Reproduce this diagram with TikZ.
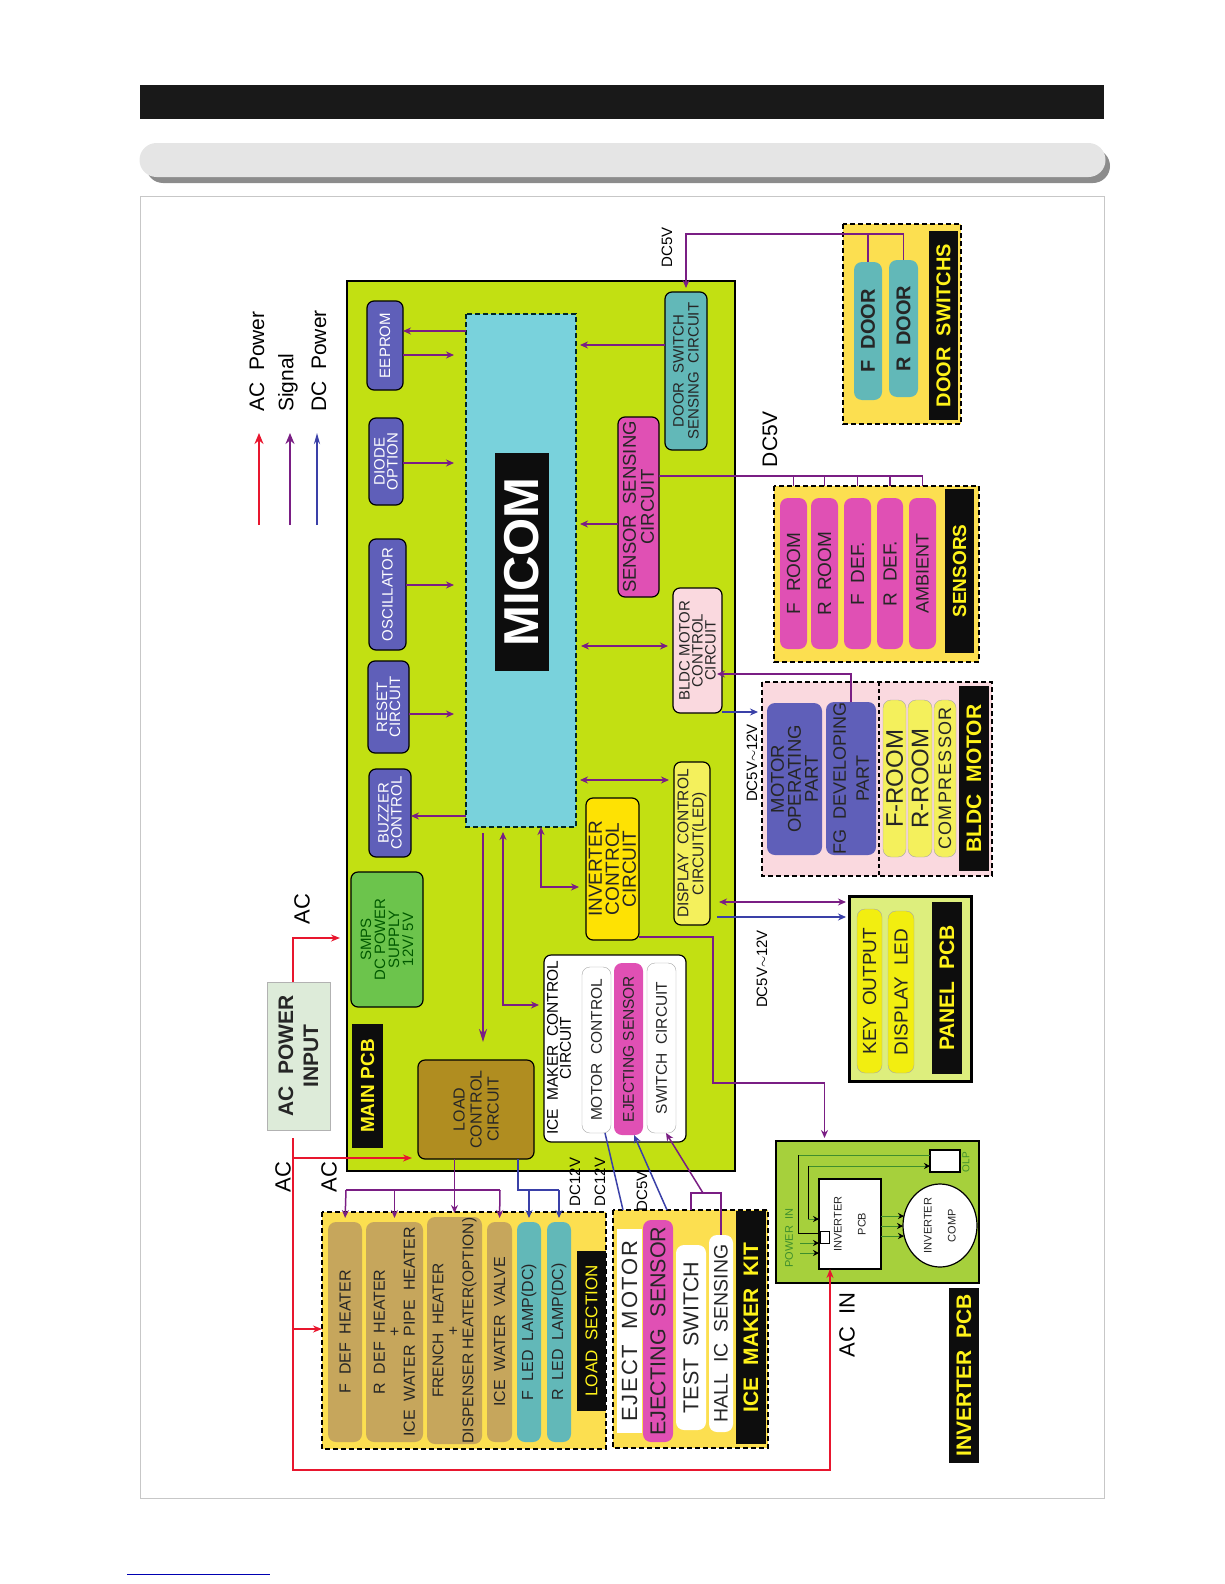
\documentclass[tikz,border=0pt]{standalone}
\usepackage{fontspec}
\setmainfont{Liberation Sans}
\usetikzlibrary{shapes.geometric, arrows.meta}
\newcommand{\fsz}[2]{\fontsize{#1}{#2}\selectfont}
\definecolor{pcbgreen}{HTML}{C2E012}
\definecolor{micomblue}{HTML}{79D2DC}
\definecolor{chipblue}{HTML}{5F5FB9}
\definecolor{panelyellow}{HTML}{FCDF50}
\definecolor{rowpink}{HTML}{E050B4}
\definecolor{rowteal}{HTML}{62B8B8}
\definecolor{rowtan}{HTML}{C6A65C}
\definecolor{rowyellow}{HTML}{F4F05C}
\definecolor{keyyellow}{HTML}{F2EE10}
\definecolor{loadbrown}{HTML}{B08D20}
\definecolor{smpsgreen}{HTML}{6CC44C}
\definecolor{invgreen}{HTML}{A6D03C}
\definecolor{acpale}{HTML}{DDEBD9}
\definecolor{blush}{HTML}{FAD9DF}
\definecolor{acred}{HTML}{E8162E}
\definecolor{sigpurple}{HTML}{7A1E84}
\definecolor{dcblue}{HTML}{3A40A8}
\definecolor{wiregreen}{HTML}{3F8F2C}
\tikzstyle{vbox} = [
    rectangle,
    rotate=90,
    inner sep=0pt,
    outer sep=0pt,
    align=center,
    text=black!85
]
\tikzstyle{chip} = [
    vbox,
    rounded corners=7pt,
    draw=black,
    line width=1.2pt,
    fill=chipblue,
    text=white,
    font=\fsz{15}{13}
]
\tikzstyle{circuit} = [
    vbox,
    rounded corners=7pt,
    draw=black,
    line width=1.2pt,
    font=\fsz{15}{13}
]
\tikzstyle{panel} = [
    vbox,
    draw=black,
    line width=1.6pt,
    dash pattern=on 5pt off 3pt,
    fill=panelyellow
]
\tikzstyle{tag} = [
    vbox,
    fill=black!95,
    text=yellow!90!white,
    font=\bfseries\fsz{21}{21}
]
\tikzstyle{row} = [
    vbox,
    rounded corners=8pt,
    font=\fsz{16}{15}
]
\tikzstyle{vlabel} = [
    rotate=90,
    inner sep=0pt,
    text=black,
    align=center
]
\tikzstyle{acline} = [line width=1.5pt,color=acred]
\tikzstyle{acarrow} = [acline,-{Stealth[length=9pt,width=7pt]}]
\tikzstyle{sigline} = [line width=1.5pt,color=sigpurple]
\tikzstyle{sigarrow} = [sigline,-{Stealth[length=8pt,width=7pt]}]
\tikzstyle{sigboth} = [sigline,{Stealth[length=8pt,width=7pt]}-{Stealth[length=8pt,width=7pt]}]
\tikzstyle{dcline} = [line width=1.5pt,color=dcblue]
\tikzstyle{dcarrow} = [dcline,-{Stealth[length=8pt,width=7pt]}]
\tikzstyle{wire} = [line width=0.7pt,color=wiregreen]
\tikzstyle{wirearrow} = [wire,-{Stealth[length=6pt,width=6pt,black]}]
\begin{document}
\begin{tikzpicture}[x=1pt, y=-1pt]
\useasboundingbox (0,0) rectangle (1224,1584);

% page furniture
\node (titlebar) at (622,102) [rectangle, fill=black!90, minimum width=964pt, minimum height=34pt, inner sep=0pt] {};
\node (subshadow) at (628,166) [rectangle, rounded corners=17pt, fill=black!45, minimum width=964pt, minimum height=34pt, inner sep=0pt] {};
\node (subbar) at (622.5,160) [rectangle, rounded corners=17pt, fill=black!10, minimum width=966pt, minimum height=34pt, inner sep=0pt] {};
\node (frame) at (622,847) [rectangle, draw=black!22, line width=0.8pt, minimum width=964pt, minimum height=1302pt, inner sep=0pt] {};
\coordinate (linka) at (127,1574);
\coordinate (linkb) at (270,1574);
\draw [line width=0.7pt, color=blue!70!black] (linka) -- (linkb);

% legend
\coordinate (legacs) at (259,525);
\coordinate (legace) at (259,433);
\coordinate (legsigs) at (290,525);
\coordinate (legsige) at (290,433);
\coordinate (legdcs) at (317,525);
\coordinate (legdce) at (317,433);
\draw [acline, line width=2pt, -{Stealth[length=11pt,width=9pt]}] (legacs) -- (legace);
\draw [sigline, line width=2pt, -{Stealth[length=11pt,width=9pt]}] (legsigs) -- (legsige);
\draw [dcline, line width=2pt, -{Stealth[length=11pt,width=6pt]}] (legdcs) -- (legdce);
\node (legac) at (257,412) [vlabel, anchor=west, font=\fsz{21}{21}] {AC\ \ Power};
\node (legsig) at (288,412) [vlabel, anchor=west, font=\fsz{21}{21}] {Signal};
\node (legdc) at (319,412) [vlabel, anchor=west, font=\fsz{21}{21}] {DC\ \ Power};

% main pcb
\node (mainpcb) at (541,726) [vbox, draw=black, line width=1.4pt, fill=pcbgreen, minimum width=890pt, minimum height=388pt] {};
\node (micom) at (521,570.5) [vbox, draw=black!70!teal, line width=1.3pt, dash pattern=on 5pt off 3pt, fill=micomblue, minimum width=513pt, minimum height=110pt] {};
\node (micomtag) at (522,562) [vbox, fill=black!95, text=white, font=\bfseries\fsz{49}{49}, minimum width=218pt, minimum height=54pt] {MICOM};
\node (eeprom) at (385,345.5) [chip, minimum width=89pt, minimum height=36pt] {EEPROM};
\node (diode) at (386,461.5) [chip, minimum width=87pt, minimum height=34pt] {DIODE\\OPTION};
\node (oscillator) at (387.5,594.5) [chip, minimum width=111pt, minimum height=37pt] {OSCILLATOR};
\node (reset) at (388.5,707) [chip, minimum width=92pt, minimum height=41pt] {RESET\\CIRCUIT};
\node (buzzer) at (390,813) [chip, minimum width=88pt, minimum height=42pt] {BUZZER\\CONTROL};
\node (smps) at (387,939.5) [circuit, fill=smpsgreen, text=green!35!black, font=\fsz{15}{14}, minimum width=135pt, minimum height=72pt] {SMPS\\DC POWER\\SUPPLY\\12V/ 5V};
\node (maintag) at (367.5,1086) [tag, font=\bfseries\fsz{19}{19}, minimum width=124pt, minimum height=31pt] {MAIN PCB};
\node (loadctl) at (476,1109.5) [circuit, fill=loadbrown, font=\fsz{16}{17}, minimum width=99pt, minimum height=116pt] {LOAD\\CONTROL\\CIRCUIT};
\node (icectl) at (615,1048.5) [circuit, fill=white, minimum width=187pt, minimum height=142pt] {};
\node (icetitle) at (559,1048) [vlabel, font=\fsz{15.5}{13}] {ICE\ \ MAKER\ \ CONTROL\\CIRCUIT};
\node (motorctl) at (596.5,1050) [row, fill=white, draw=black!35, font=\fsz{15.5}{15}, minimum width=166pt, minimum height=29pt] {MOTOR\ \ CONTROL};
\node (ejctl) at (628.5,1049) [row, fill=rowpink, font=\fsz{15.5}{15}, minimum width=172pt, minimum height=29pt] {EJECTING SENSOR};
\node (switchctl) at (661.5,1048) [row, fill=white, draw=black!35, font=\fsz{15.5}{15}, minimum width=170pt, minimum height=29pt] {SWITCH\ \ CIRCUIT};
\node (invctl) at (612.5,869) [circuit, fill=yellow!85!orange, font=\fsz{19}{17}, minimum width=142pt, minimum height=53pt] {INVERTER\\CONTROL\\CIRCUIT};
\node (display) at (692,843.5) [circuit, fill=rowyellow, font=\fsz{15.5}{15}, minimum width=163pt, minimum height=36pt] {DISPLAY\ \ CONTROL\\CIRCUIT(LED)};
\node (bldcctl) at (697.5,650.5) [circuit, fill=blush, minimum width=125pt, minimum height=49pt] {BLDC MOTOR\\CONTROL\\CIRCUIT};
\node (sensing) at (638.5,507) [circuit, fill=rowpink, font=\fsz{18.5}{18}, minimum width=180pt, minimum height=41pt] {SENSOR\ \ SENSING\\CIRCUIT};
\node (doorctl) at (686,371) [circuit, fill=rowteal, font=\fsz{15}{15}, minimum width=158pt, minimum height=42pt] {DOOR\ \ SWITCH\\SENSING\ \ CIRCUIT};

% door switchs
\node (doorpanel) at (902,324) [panel, minimum width=200pt, minimum height=118pt] {};
\node (doortag) at (943.5,325.5) [tag, font=\bfseries\fsz{20}{20}, minimum width=189pt, minimum height=29pt] {DOOR\ \ SWITCHS};
\node (fdoor) at (868,331) [row, fill=rowteal, font=\bfseries\fsz{20}{20}, minimum width=138pt, minimum height=28pt] {F\ \ DOOR};
\node (rdoor) at (903.5,328.5) [row, fill=rowteal, font=\bfseries\fsz{20}{20}, minimum width=137pt, minimum height=29pt] {R\ \ DOOR};

% sensors
\node (senspanel) at (876.5,574) [panel, minimum width=176pt, minimum height=205pt] {};
\node (senstag) at (959.5,571) [tag, font=\bfseries\fsz{19}{19}, minimum width=164pt, minimum height=29pt] {SENSORS};
\node (froomsens) at (793.5,573.5) [row, fill=rowpink, font=\fsz{19}{19}, minimum width=151pt, minimum height=27pt] {F\ \ ROOM};
\node (rroomsens) at (824.5,573.5) [row, fill=rowpink, font=\fsz{19}{19}, minimum width=151pt, minimum height=27pt] {R\ \ ROOM};
\node (fdefsens) at (857.5,573.5) [row, fill=rowpink, font=\fsz{19}{19}, minimum width=151pt, minimum height=27pt] {F\ \ DEF.};
\node (rdefsens) at (890,573.5) [row, fill=rowpink, font=\fsz{19}{19}, minimum width=151pt, minimum height=26pt] {R\ \ DEF.};
\node (ambient) at (922.5,573.5) [row, fill=rowpink, font=\fsz{18}{18}, minimum width=151pt, minimum height=27pt] {AMBIENT};

% bldc motor
\node (bldcpanel) at (877,779) [panel, fill=blush, line width=2.2pt, minimum width=194pt, minimum height=230pt] {};
\node (motorpart) at (794.5,779) [row, fill=chipblue, font=\fsz{18.5}{17}, minimum width=152pt, minimum height=55pt] {MOTOR\\OPERATING\\PART};
\node (fgpart) at (851,778.5) [row, fill=chipblue, font=\fsz{18}{23}, minimum width=153pt, minimum height=50pt] {FG\ \ DEVELOPING\\PART};
\node (froommotor) at (894.5,778.5) [row, fill=rowyellow, draw=black!35, font=\fsz{24}{24}, minimum width=157pt, minimum height=23pt] {F-ROOM};
\node (rroommotor) at (920,778.5) [row, fill=rowyellow, draw=black!35, font=\fsz{24}{24}, minimum width=157pt, minimum height=24pt] {R-ROOM};
\node (compressor) at (945,778.5) [row, fill=rowyellow, draw=black!35, font=\fsz{18}{18}\addfontfeature{LetterSpace=8}, minimum width=157pt, minimum height=22pt] {COMPRESSOR};
\node (bldctag) at (974,778.5) [tag, minimum width=185pt, minimum height=30pt] {BLDC\ \ MOTOR};
\coordinate (divtop) at (879,682);
\coordinate (divbot) at (879,876);
\draw [black, line width=1.6pt, dash pattern=on 4pt off 3pt] (divtop) -- (divbot);

% panel pcb
\node (panelpcb) at (910,988.5) [vbox, draw=black, line width=3pt, fill=pcbgreen!55!white, minimum width=185pt, minimum height=122pt] {};
\node (keyout) at (869.5,991) [row, fill=keyyellow, draw=black!35, font=\fsz{19}{19}, minimum width=164pt, minimum height=25pt] {KEY\ \ OUTPUT};
\node (displed) at (901,992) [row, fill=keyyellow, draw=black!35, font=\fsz{19}{19}, minimum width=162pt, minimum height=26pt] {DISPLAY\ \ LED};
\node (paneltag) at (947,988) [tag, minimum width=172pt, minimum height=30pt] {PANEL\ \ PCB};

% inverter pcb
\node (invbox) at (877.5,1212) [vbox, draw=black, line width=1.2pt, fill=invgreen, minimum width=142pt, minimum height=203pt] {};
\node (invpcb) at (850,1224) [vbox, draw=black, line width=2.4pt, fill=white, font=\fsz{11}{24}, minimum width=90pt, minimum height=62pt] {INVERTER\\PCB};
\node (invplug) at (824.5,1237) [vbox, draw=black, line width=1pt, fill=white, minimum width=12pt, minimum height=9pt] {};
\node (invcomp) at (940,1225.5) [ellipse, rotate=90, inner sep=0pt, outer sep=0pt, draw=black, line width=1.2pt, fill=white, text=black!85, align=center, font=\fsz{11}{24}, minimum width=83pt, minimum height=74pt] {INVERTER\\COMP};
\node (olp) at (945,1161) [vbox, draw=black, line width=1.6pt, fill=white, minimum width=22pt, minimum height=30pt] {};
\node (olplabel) at (966,1162) [vlabel, text=wiregreen, font=\fsz{10}{10}] {OLP};
\node (powerin) at (789,1238) [vlabel, text=wiregreen, font=\fsz{11}{11}] {POWER\ \ IN};
\node (invtag) at (964,1375.5) [tag, minimum width=175pt, minimum height=30pt] {INVERTER\ \ PCB};
\node (acin) at (847,1325) [vlabel, font=\fsz{22}{22}] {AC\ \ IN};

% load section
\node (loadpanel) at (464,1330.5) [panel, minimum width=237pt, minimum height=284pt] {};
\node (loadtag) at (591.5,1331) [tag, font=\fsz{17}{17}, minimum width=160pt, minimum height=29pt] {LOAD\ \ SECTION};
\node (fheater) at (345,1332) [row, fill=rowtan, minimum width=220pt, minimum height=34pt] {F\ \ DEF\ \ HEATER};
\node (rheater) at (394.5,1332) [row, fill=rowtan, minimum width=220pt, minimum height=57pt] {R\ \ DEF\ \ HEATER\\+\\ICE\ \ WATER\ \ PIPE\ \ HEATER};
\node (french) at (454.5,1330.5) [row, fill=rowtan, font=\fsz{15.5}{15}, minimum width=227pt, minimum height=55pt] {FRENCH\ \ HEATER\\+\\DISPENSER HEATER(OPTION)};
\node (valve) at (499.5,1332) [row, fill=rowtan, minimum width=220pt, minimum height=25pt] {ICE\ \ WATER\ \ VALVE};
\node (fled) at (529,1332) [row, fill=rowteal, minimum width=220pt, minimum height=24pt] {F\ \ LED\ \ LAMP(DC)};
\node (rled) at (559,1332) [row, fill=rowteal, minimum width=220pt, minimum height=24pt] {R\ \ LED\ \ LAMP(DC)};

% ice maker kit
\node (icepanel) at (690.5,1329) [panel, minimum width=238pt, minimum height=155pt] {};
\node (icetag) at (751,1327.5) [tag, minimum width=233pt, minimum height=30pt] {ICE\ \ MAKER\ \ KIT};
\node (ejectm) at (629.5,1331) [vbox, fill=white, font=\fsz{22}{22}\addfontfeature{LetterSpace=8}, minimum width=204pt, minimum height=25pt] {EJECT\ \ MOTOR};
\node (ejects) at (658,1331) [row, fill=rowpink, font=\fsz{21.5}{21}, minimum width=222pt, minimum height=30pt] {EJECTING\ \ SENSOR};
\node (testsw) at (691,1337.5) [row, fill=white, font=\fsz{21.5}{21}, minimum width=185pt, minimum height=30pt] {TEST\ \ SWITCH};
\node (hallic) at (721,1333.5) [row, fill=white, font=\fsz{19.5}{19}, minimum width=197pt, minimum height=24pt] {HALL\ \ IC\ \ SENSING};

% ac power input
\node (acinput) at (298.5,1056) [vbox, draw=black!30, line width=0.8pt, fill=acpale, font=\bfseries\fsz{21}{25}, minimum width=148pt, minimum height=63pt] {AC\ \ POWER\\INPUT};

% small labels
\node (actop) at (302,909) [vlabel, font=\fsz{22}{22}] {AC};
\node (acleft) at (283,1177) [vlabel, font=\fsz{22}{22}] {AC};
\node (acload) at (329,1177) [vlabel, font=\fsz{22}{22}] {AC};
\node (dcdoor) at (667,247) [vlabel, font=\fsz{15}{15}] {DC5V};
\node (dcsens) at (770,439) [vlabel, font=\fsz{21}{21}] {DC5V};
\node (dcbldc) at (752,763) [vlabel, font=\fsz{15}{15}] {DC5V$\sim$12V};
\node (dcpanel) at (762,969) [vlabel, font=\fsz{15}{15}] {DC5V$\sim$12V};
\node (dcfirst) at (575,1182) [vlabel, font=\fsz{15}{15}] {DC12V};
\node (dcsecond) at (600,1182) [vlabel, font=\fsz{15}{15}] {DC12V};
\node (dcice) at (642,1191) [vlabel, font=\fsz{15}{15}] {DC5V};

% around the micom
\coordinate (invdrop) at (541,887);
\coordinate (loaddrop) at (483,1042);
\coordinate (icedrop) at (503,1005);
\draw [sigarrow] (micom.north |- 0,331) -- (eeprom.south |- 0,331);
\draw [sigarrow, shorten >=12pt] (eeprom.south |- 0,355) -- (micom.north |- 0,355);
\draw [sigarrow, shorten >=12pt] (diode.south |- 0,463) -- (micom.north |- 0,463);
\draw [sigarrow, shorten >=12pt] (oscillator.south |- 0,585) -- (micom.north |- 0,585);
\draw [sigarrow, shorten >=12pt] (reset.south |- 0,714) -- (micom.north |- 0,714);
\draw [sigarrow] (micom.north |- 0,816) -- (buzzer.south |- 0,816);
\draw [sigarrow, shorten >=4pt] (doorctl.north |- 0,345) -- (micom.south |- 0,345);
\draw [sigarrow, shorten >=4pt] (sensing.north |- 0,524) -- (micom.south |- 0,524);
\draw [sigboth, shorten <=5pt, shorten >=5pt] (micom.south |- 0,646) -- (bldcctl.north |- 0,646);
\draw [sigboth, shorten <=4pt, shorten >=5pt] (micom.south |- 0,780) -- (display.north |- 0,780);
\draw [sigboth, shorten >=7pt] (micom.west -| invdrop) -- (invdrop) -- (invctl.north |- invdrop);
\draw [sigarrow, line width=1.8pt, -{Stealth[length=13pt,width=8pt]}, shorten <=6pt] (micom.west -| loaddrop) -- (loaddrop);
\draw [sigboth, shorten <=5pt, shorten >=5pt] (micom.west -| icedrop) -- (icedrop) -- (icectl.north |- icedrop);

% outside links
\draw [sigarrow, shorten >=4pt] (rdoor.east) -- (rdoor.east |- 0,234) -- (doorctl.east |- 0,234) -- (doorctl.east);
\draw [sigline] (fdoor.east) -- (fdoor.east |- 0,234);
\draw [sigline] (sensing.south |- 0,476) -- (ambient |- 0,476) -- (ambient |- senspanel.east);
\draw [sigline] (froomsens |- 0,476) -- (froomsens |- senspanel.east);
\draw [sigline] (rroomsens |- 0,476) -- (rroomsens |- senspanel.east);
\draw [sigline] (fdefsens |- 0,476) -- (fdefsens |- senspanel.east);
\draw [sigline] (rdefsens |- 0,476) -- (rdefsens |- senspanel.east);
\draw [sigarrow, shorten >=-5pt] (fgpart.east) -- (fgpart.east |- 0,674) -- (bldcctl.south |- 0,674);
\draw [dcarrow, shorten >=4pt] (bldcctl.south |- 0,712) -- (bldcpanel.north |- 0,712);
\draw [sigboth, shorten <=9pt, shorten >=3pt] (display.south |- 0,902) -- (panelpcb.north |- 0,902);
\draw [dcarrow, line width=2pt, shorten <=7pt, shorten >=3pt] (display.south |- 0,917) -- (panelpcb.north |- 0,917);
\coordinate (invbend) at (713,1083);
\draw [sigarrow, shorten >=3pt] (invctl.south |- 0,937) -| (invbend) -| (invplug |- invbox.east);

% load section links
\coordinate (sigbusa) at (346,1190);
\coordinate (sigbusb) at (500,1190);
\coordinate (dcbend) at (518,1190);
\draw [sigline] (sigbusa) -- (sigbusb);
\draw [sigarrow, shorten >=4pt] (loadctl.west -| french.east) -- (french.east);
\draw [sigarrow, shorten >=4pt] (sigbusa) -- (fheater.east);
\draw [sigarrow, shorten >=4pt] (rheater.east |- sigbusa) -- (rheater.east);
\draw [sigarrow, shorten >=4pt] (sigbusb) -- (valve.east);
\draw [dcline] (loadctl.west -| dcbend) -- (dcbend) -- (rled.east |- dcbend);
\draw [dcarrow, shorten >=4pt] (fled.east |- dcbend) -- (fled.east);
\draw [dcarrow, shorten >=4pt] (rled.east |- dcbend) -- (rled.east);

% ice maker links
\coordinate (kitmotor) at (623,1210);
\coordinate (kitsensor) at (667,1210);
\coordinate (kitsplit) at (703,1193);
\draw [dcline] (motorctl.west -| 605,0) -- (kitmotor);
\draw [dcarrow] (kitsensor) -- (ejctl.west -| 634,0);
\draw [sigarrow] (kitsplit) -- (switchctl.west -| 666,0);
\draw [sigline] (testsw.east |- icepanel.east) -- (testsw.east |- kitsplit) -- (hallic.east |- kitsplit) -- (hallic.east);

% ac power
\coordinate (acbus) at (293,1138);
\coordinate (accorner) at (293,1470);
\coordinate (acturn) at (830,1470);
\draw [acarrow, shorten >=11pt] (acinput.east -| acbus) |- (smps.north |- 0,938);
\draw [acarrow] (acbus) -- (accorner) -- (acturn) -- (acturn |- invpcb.west);
\draw [acarrow, shorten >=6pt] (acbus |- 0,1158) -- (loadctl.north |- 0,1158);
\draw [acarrow] (acbus |- 0,1329) -- (loadpanel.north |- 0,1329);

% inside the inverter box
\coordinate (wireout) at (798,1155);
\coordinate (wirein) at (808,1166);
\draw [wire] (olp.north |- wireout) -- (wireout);
\draw [black, line width=0.8pt] (wireout) |- (invplug.north |- 0,1233);
\draw [wirearrow] (wirein) -- (olp.north |- wirein);
\draw [black, line width=0.8pt] (wirein) -- (wirein |- 0,1219);
\draw [wirearrow] (wirein |- 0,1219) -- (invpcb.north |- 0,1219);
\draw [wirearrow] (800,1243) -- (invpcb.north |- 0,1243);
\draw [wirearrow] (800,1253) -- (invpcb.north |- 0,1253);
\draw [wirearrow] (invpcb.south |- 0,1216) -- (904,1216);
\draw [wirearrow] (invpcb.south |- 0,1226) -- (903,1226);
\draw [wirearrow] (invpcb.south |- 0,1236) -- (904,1236);

\end{tikzpicture}
\end{document}
